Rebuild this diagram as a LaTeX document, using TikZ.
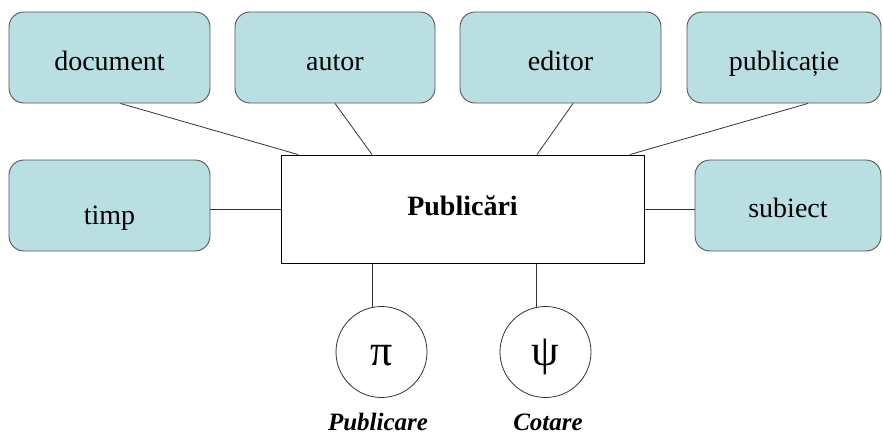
\documentclass[tikz,border=0pt]{standalone}
\usepackage{fontspec}
\setmainfont{Liberation Serif}
\definecolor{boxfill}{HTML}{B9DFE3}
\definecolor{boxline}{HTML}{555555}
\definecolor{conline}{HTML}{333333}
\begin{document}
\begin{tikzpicture}[x=1pt,y=-1pt,
  dimbox/.style={draw=boxline, fill=boxfill, rounded corners=15pt, line width=0.9pt,
    minimum height=91pt, inner sep=0pt, text height=25pt, text depth=0pt,
    font=\fontsize{28}{30}\selectfont},
  factbox/.style={draw=black, fill=white, line width=1pt, minimum width=363pt,
    minimum height=108pt, inner sep=0pt, text height=12pt, text depth=0pt,
    font=\fontsize{28}{30}\selectfont\bfseries},
  measure/.style={draw=conline, circle, line width=0.8pt, minimum size=91pt, inner sep=0pt,
    text height=26pt, text depth=0pt, font=\fontsize{44}{46}\selectfont},
  mlabel/.style={anchor=base, font=\fontsize{25}{28}\selectfont\bfseries\itshape},
  con/.style={draw=conline, line width=0.8pt}]
\useasboundingbox (0,0) rectangle (883,437);
\node[dimbox, minimum width=201pt] (doc) at (109.5,57.5) {document};
\node[dimbox, minimum width=200pt] (aut) at (335,57.5) {autor};
\node[dimbox, minimum width=201pt] (edi) at (560.5,57.5) {editor};
\node[dimbox, minimum width=194pt] (pbl) at (784,57.5) {publicație};
\node[dimbox, minimum width=201pt, text height=37pt] (tim) at (109.5,205.5) {timp};
\node[dimbox, minimum width=186pt, text height=23pt] (sub) at (788,205.5) {subiect};
\node[factbox] (pub) at (462.5,209) {Publicări};
\node[measure] (pi) at (381.5,352) {π};
\node[measure] (psi) at (545.5,352) {ψ};
\node[mlabel] (lpi) at (378,430) {Publicare};
\node[mlabel] (lpsi) at (548,430) {Cotare};
\draw[con] ([xshift=11pt]doc.south) -- ([xshift=-164.5pt]pub.north);
\draw[con] (aut.south) -- ([xshift=-90.5pt]pub.north);
\draw[con] ([xshift=12.5pt]edi.south) -- ([xshift=74.5pt]pub.north);
\draw[con] ([xshift=24pt]pbl.south) -- ([xshift=167.5pt]pub.north);
\draw[con] (pub.west) -- (pub.west -| tim.east);
\draw[con] (pub.east) -- (pub.east -| sub.west);
\draw[con] (pi.102) -- (pi.102 |- pub.south);
\draw[con] (psi.102) -- (psi.102 |- pub.south);
\end{tikzpicture}
\end{document}
